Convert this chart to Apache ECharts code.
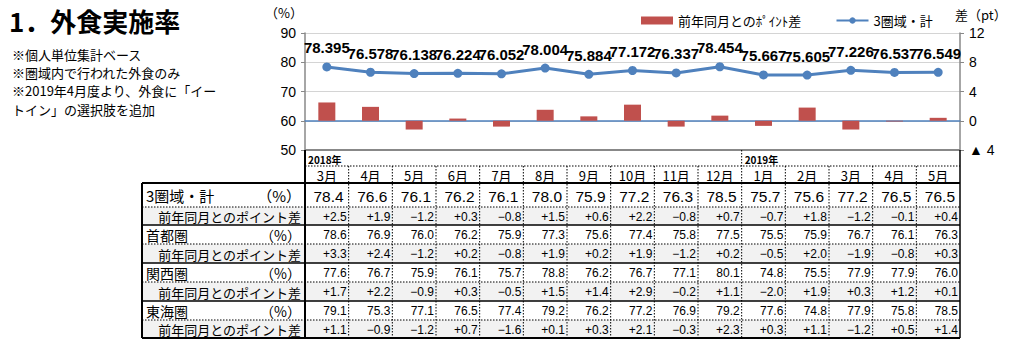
<!DOCTYPE html>
<html><head><meta charset="utf-8">
<script src="https://cdn.jsdelivr.net/npm/echarts@6/dist/echarts.min.js"></script>
<style>html,body{margin:0;padding:0;background:#fff}#c{width:1024px;height:350px}</style>
</head><body><div id="c"></div>
<script>
// ---- data ----
const months = ['3月','4月','5月','6月','7月','8月','9月','10月','11月','12月','1月','2月','3月','4月','5月'];
const yearMarks = ['2018年','','','','','','','','','','2019年','','','',''];
const totalRate = [78.395,76.578,76.138,76.224,76.052,78.004,75.884,77.172,76.337,78.454,75.667,75.605,77.226,76.537,76.549];
const totalDiff = [2.5,1.9,-1.2,0.3,-0.8,1.5,0.6,2.2,-0.8,0.7,-0.7,1.8,-1.2,-0.1,0.4];
const totalTable = [78.4,76.6,76.1,76.2,76.1,78.0,75.9,77.2,76.3,78.5,75.7,75.6,77.2,76.5,76.5];
const shutoken = [78.6,76.9,76.0,76.2,75.9,77.3,75.6,77.4,75.8,77.5,75.5,75.9,76.7,76.1,76.3];
const shutokenDiff = [3.3,2.4,-1.2,0.2,-0.8,1.9,0.2,1.9,-1.2,0.2,-0.5,2.0,-1.9,-0.8,0.3];
const kansai = [77.6,76.7,75.9,76.1,75.7,78.8,76.2,76.7,77.1,80.1,74.8,75.5,77.9,77.9,76.0];
const kansaiDiff = [1.7,2.2,-0.9,0.3,-0.5,1.5,1.4,2.9,-0.2,1.1,-2.0,1.9,0.3,1.2,0.1];
const tokai = [79.1,75.3,77.1,76.5,77.4,79.2,76.2,77.2,76.9,79.2,77.6,74.8,77.9,75.8,78.5];
const tokaiDiff = [1.1,-0.9,-1.2,0.7,-1.6,0.1,0.3,2.1,-0.3,2.3,0.3,1.1,-1.2,0.5,1.4];
const regionNames = ['3圏域・計','首都圏','関西圏','東海圏'];
const diffRowName = '前年同月とのポイント差';
const unitLabel = '（%）';
const leftTicks = {min:50, max:90, interval:10};
const rightTicks = {min:-4, max:12, interval:4};
const seriesNames = ['前年同月とのﾎﾟｲﾝﾄ差','3圏域・計'];
const titleText = '1．外食実施率';
const notes = ['※個人単位集計ベース','※圏域内で行われた外食のみ','※2019年4月度より、外食に「イー','トイン」の選択肢を追加'];

// ---- chart ----
const FONT = '"Liberation Sans","Noto Sans CJK JP",sans-serif';
const JFONT = '"Noto Sans CJK JP","Liberation Sans",sans-serif';
const chart = echarts.init(document.getElementById('c'), null, {renderer:'svg'});
const GRID = {left:305, right:64, top:33, height:117};

const option = {
  animation:false,
  backgroundColor:'#fff',
  title:{text:titleText, left:4, top:2, textStyle:{fontSize:26, fontWeight:'bold', color:'#000', fontFamily:JFONT}},
  legend:{
    left:636, top:9, itemWidth:32, itemHeight:8, itemGap:34,
    textStyle:{fontSize:13, color:'#000', fontFamily:JFONT},
    data:[{name:seriesNames[0], icon:'rect'},{name:seriesNames[1]}]
  },
  grid:GRID,
  xAxis:{
    type:'category', data:months, boundaryGap:true,
    axisLabel:{show:false}, axisTick:{show:false},
    axisLine:{show:true, onZero:true, onZeroAxisIndex:1, lineStyle:{color:'#4F81BD', width:1.5}},
    splitLine:{show:false}
  },
  yAxis:[
    {type:'value', min:leftTicks.min, max:leftTicks.max, interval:leftTicks.interval,
     axisLabel:{fontSize:14, color:'#000', margin:9, fontFamily:FONT},
     axisLine:{show:true, lineStyle:{color:'#888', width:1.5}},
     axisTick:{show:true, length:4, lineStyle:{color:'#888'}},
     splitLine:{show:true, lineStyle:{color:'#d4d4d4', width:1.2}}},
    {type:'value', min:rightTicks.min, max:rightTicks.max, interval:rightTicks.interval,
     axisLabel:{fontSize:14, color:'#000', margin:9, fontFamily:FONT,
       formatter:v => v < 0 ? '▲ ' + (-v) : String(v)},
     axisLine:{show:true, lineStyle:{color:'#888', width:1.5}},
     axisTick:{show:true, length:4, lineStyle:{color:'#888'}},
     splitLine:{show:false}}
  ],
  series:[
    {name:seriesNames[0], type:'bar', yAxisIndex:1, data:totalDiff, barWidth:17,
     itemStyle:{color:'#C0504D'}, z:2},
    {name:seriesNames[1], type:'line', yAxisIndex:0, data:totalRate,
     symbol:'circle', symbolSize:9, itemStyle:{color:'#4F81BD'},
     lineStyle:{color:'#4F81BD', width:3}, z:3,
     label:{show:true, position:'top', distance:7, fontSize:15, fontWeight:'bold', color:'#000', fontFamily:FONT}}
  ]
};
chart.setOption(option);

// ---- table built from the category axis scale ----
const xs = months.map((_, i) => chart.convertToPixel({xAxisIndex:0}, i));
const band = xs[1] - xs[0];
const X0 = xs[0] - band/2, X1 = xs[xs.length-1] + band/2, L = 142;
const plotBottom = GRID.top + GRID.height;
const headerMid = 166;
const rowEdges = [183,207,225,244,263,282,301,320,338];
const tableRows = [
  {name:regionNames[0], vals:totalTable, diff:false, big:true},
  {name:diffRowName, vals:totalDiff, diff:true},
  {name:regionNames[1], vals:shutoken, diff:false},
  {name:diffRowName, vals:shutokenDiff, diff:true},
  {name:regionNames[2], vals:kansai, diff:false},
  {name:diffRowName, vals:kansaiDiff, diff:true},
  {name:regionNames[3], vals:tokai, diff:false},
  {name:diffRowName, vals:tokaiDiff, diff:true}
];
const fmtDiff = v => (v > 0 ? '+' : (v < 0 ? '−' : '')) + Math.abs(v).toFixed(1);
const g = [];
const txt = (text, x, y, size, align, opts) => g.push({type:'text', silent:true, z:10, style:Object.assign({
  text:text, x:x, y:y, fontSize:size, fontFamily:FONT, fill:'#000',
  textAlign:align, textVerticalAlign:'middle', align:align, verticalAlign:'middle'}, opts||{})});
const line = (x1,y1,x2,y2,w,dash,color) => g.push({type:'line', silent:true, z:9,
  shape:{x1:x1,y1:y1,x2:x2,y2:y2}, style:{stroke:color||'#000', lineWidth:w, lineDash:dash?[1.5,1.5]:null}});

// notes & units
notes.forEach((n,i) => txt(n, 12, [54,72,90,109][i], 13, 'left', {fontFamily:JFONT, lineHeight:15}));
txt('（%）', 303, 12, 13, 'right', {fontFamily:JFONT});
txt('差（pt）', 955, 14, 13, 'left', {fontFamily:JFONT});

// shaded diff rows
tableRows.forEach((r, ri) => {
  if (r.diff) g.push({type:'rect', silent:true, z:8,
    shape:{x:L, y:rowEdges[ri], width:X1-L, height:rowEdges[ri+1]-rowEdges[ri]}, style:{fill:'#F2F2F2'}});
});
// header: years & months
yearMarks.forEach((y,i) => { if (y) txt(y, xs[i]-band/2+3, 159, 10, 'left', {fontWeight:'bold', fontFamily:JFONT}); });
months.forEach((m,i) => txt(m, xs[i], 175, 13, 'center', {fontFamily:JFONT}));
// table cells
tableRows.forEach((r, ri) => {
  const yc = (rowEdges[ri] + rowEdges[ri+1]) / 2 + 0.5;
  if (r.diff) {
    txt(r.name, X0-4, yc, 13, 'right', {fontFamily:JFONT});
  } else {
    txt(r.name, L+4, yc, r.big?15:14, 'left', {fontFamily:JFONT});
    txt(unitLabel, X0-4, yc, r.big?15:14, 'right', {fontFamily:JFONT});
  }
  r.vals.forEach((v,i) => {
    const right = xs[i] + band/2;
    const s = r.diff ? fmtDiff(v) : v.toFixed(1);
    if (r.big) txt(s, right-5, yc+1, 15.5, 'right');
    else txt(s, right-2, yc, 12, 'right');
  });
});
// grid lines of the table
line(X0, plotBottom, X1, plotBottom, 2, false, '#888');
line(X0, headerMid, X1, headerMid, 1, true);
rowEdges.forEach((y, k) => {
  if (k === 0 || k === rowEdges.length-1) line(L, y, X1, y, 2, false);
  else if (k % 2 === 1) line(L, y, X1, y, 1, true);
  else line(L, y, X1, y, 1.3, false);
});
months.forEach((m,i) => {
  if (i === months.length-1) return;
  const x = xs[i] + band/2;
  const top = yearMarks[i+1] ? plotBottom : headerMid;
  line(x, top, x, rowEdges[rowEdges.length-1], 1, true);
});
line(L, rowEdges[0], L, rowEdges[rowEdges.length-1], 2, false);
line(X0, plotBottom, X0, rowEdges[rowEdges.length-1], 2, false);
line(X1, plotBottom, X1, rowEdges[rowEdges.length-1], 1.5, false);

chart.setOption({graphic:g});
</script>
</body></html>
